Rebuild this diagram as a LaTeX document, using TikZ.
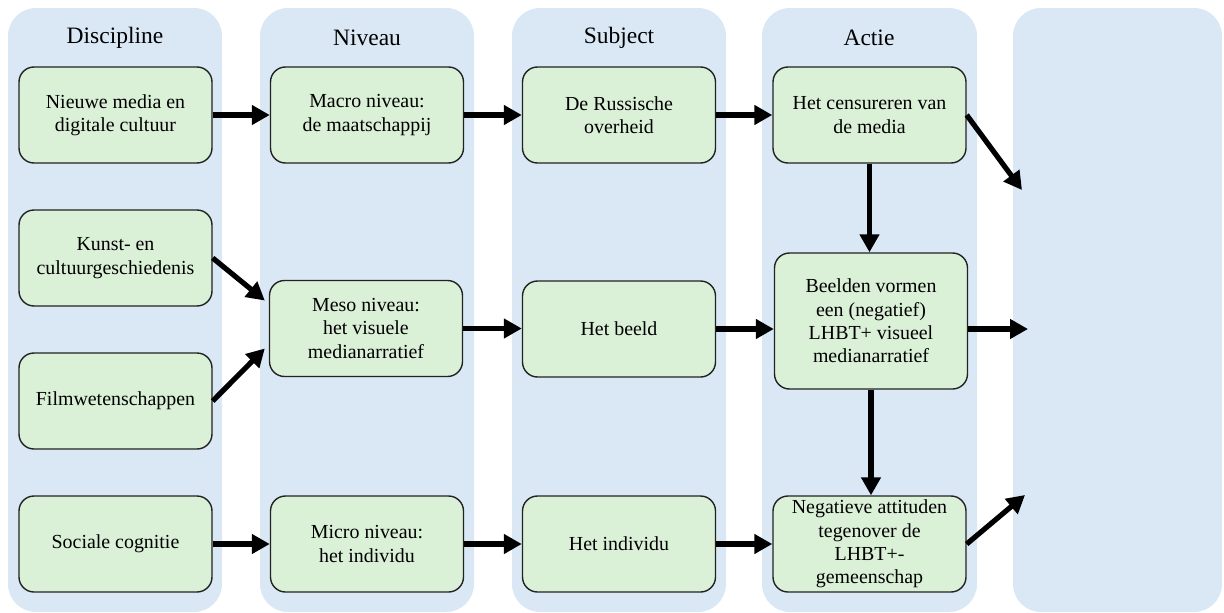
\documentclass[tikz,border=0pt]{standalone}
\usepackage{fontspec}
\setmainfont{Liberation Serif}
\usetikzlibrary{arrows.meta,calc}
\definecolor{colfill}{HTML}{DAE8F6}
\definecolor{boxfill}{HTML}{DAF0D7}
\definecolor{boxline}{HTML}{222222}
\begin{document}
\begin{tikzpicture}[x=1pt,y=-1pt,
  column/.style={fill=colfill, rounded corners=28pt},
  box/.style={draw=boxline, line width=1.4pt, fill=boxfill, rounded corners=15pt,
    minimum width=193pt, minimum height=96pt, align=center, inner sep=2pt,
    font=\fontsize{19.9}{23.4}\selectfont},
  head/.style={font=\fontsize{23.5}{28}\selectfont},
  arr/.style={line width=5.2pt, -{Triangle[length=18pt,width=19pt]}}]
\useasboundingbox[fill=white] (0,0) rectangle (1224,613);
% columns
\fill[column] (8,8) rectangle (222,612);
\fill[column] (260,8) rectangle (474,612);
\fill[column] (512,8) rectangle (726,612);
\fill[column] (762,8) rectangle (977,612);
\fill[column] (1013,8) rectangle (1222,612);
% headers
\node[head] (h1) at (115,38) {Discipline};
\node[head] (h2) at (367,38) {Niveau};
\node[head] (h3) at (619,38) {Subject};
\node[head] (h4) at (869,38) {Actie};
% boxes
\node[box] (A1) at (115.5,115) {Nieuwe media en\\digitale cultuur};
\node[box] (A2) at (115.5,258) {Kunst- en\\cultuurgeschiedenis};
\node[box] (A3) at (115.5,401) {Filmwetenschappen};
\node[box] (A4) at (115.5,544) {Sociale cognitie};
\node[box] (B1) at (367,115) {Macro niveau:\\de maatschappij};
\node[box] (B2) at (366,328.5) {Meso niveau:\\het visuele\\medianarratief};
\node[box] (B3) at (367,544) {Micro niveau:\\het individu};
\node[box] (C1) at (619,115) {De Russische\\overheid};
\node[box] (C2) at (619,329) {Het beeld};
\node[box] (C3) at (619,544) {Het individu};
\node[box] (D1) at (869.5,115) {Het censureren van\\de media};
\node[box, minimum height=136pt] (D2) at (871,321) {Beelden vormen\\een (negatief)\\LHBT+ visueel\\medianarratief};
\node[box] (D3) at (869.5,544) {Negatieve attituden\\tegenover de\\LHBT+-\\gemeenschap};
% free ends in last column
\coordinate (e1) at (1022,190);
\coordinate (e2) at (1028,329);
\coordinate (e3) at (1025,495);
% arrows
\draw[arr] (A1.east) -- (B1.west);
\draw[arr] (B1.east) -- (C1.west);
\draw[arr] (C1.east) -- (D1.west);
\draw[arr] (A2.east) -- ($(B2.west)+(-4,-28)$);
\draw[arr] (A3.east) -- ($(B2.west)+(-4,20)$);
\draw[arr] (B2.east) -- (B2.east -| C2.west);
\draw[arr] (C2.east) -- (C2.east -| D2.west);
\draw[arr] (A4.east) -- (B3.west);
\draw[arr] (B3.east) -- (C3.west);
\draw[arr] (C3.east) -- (D3.west);
\draw[arr] (D1.south) -- (D1.south |- D2.north);
\draw[arr] (D2.south) -- (D2.south |- D3.north);
\draw[arr] (D1.east) -- (e1);
\draw[arr] (D2.east |- e2) -- (e2);
\draw[arr] (D3.east) -- (e3);
\end{tikzpicture}
\end{document}
